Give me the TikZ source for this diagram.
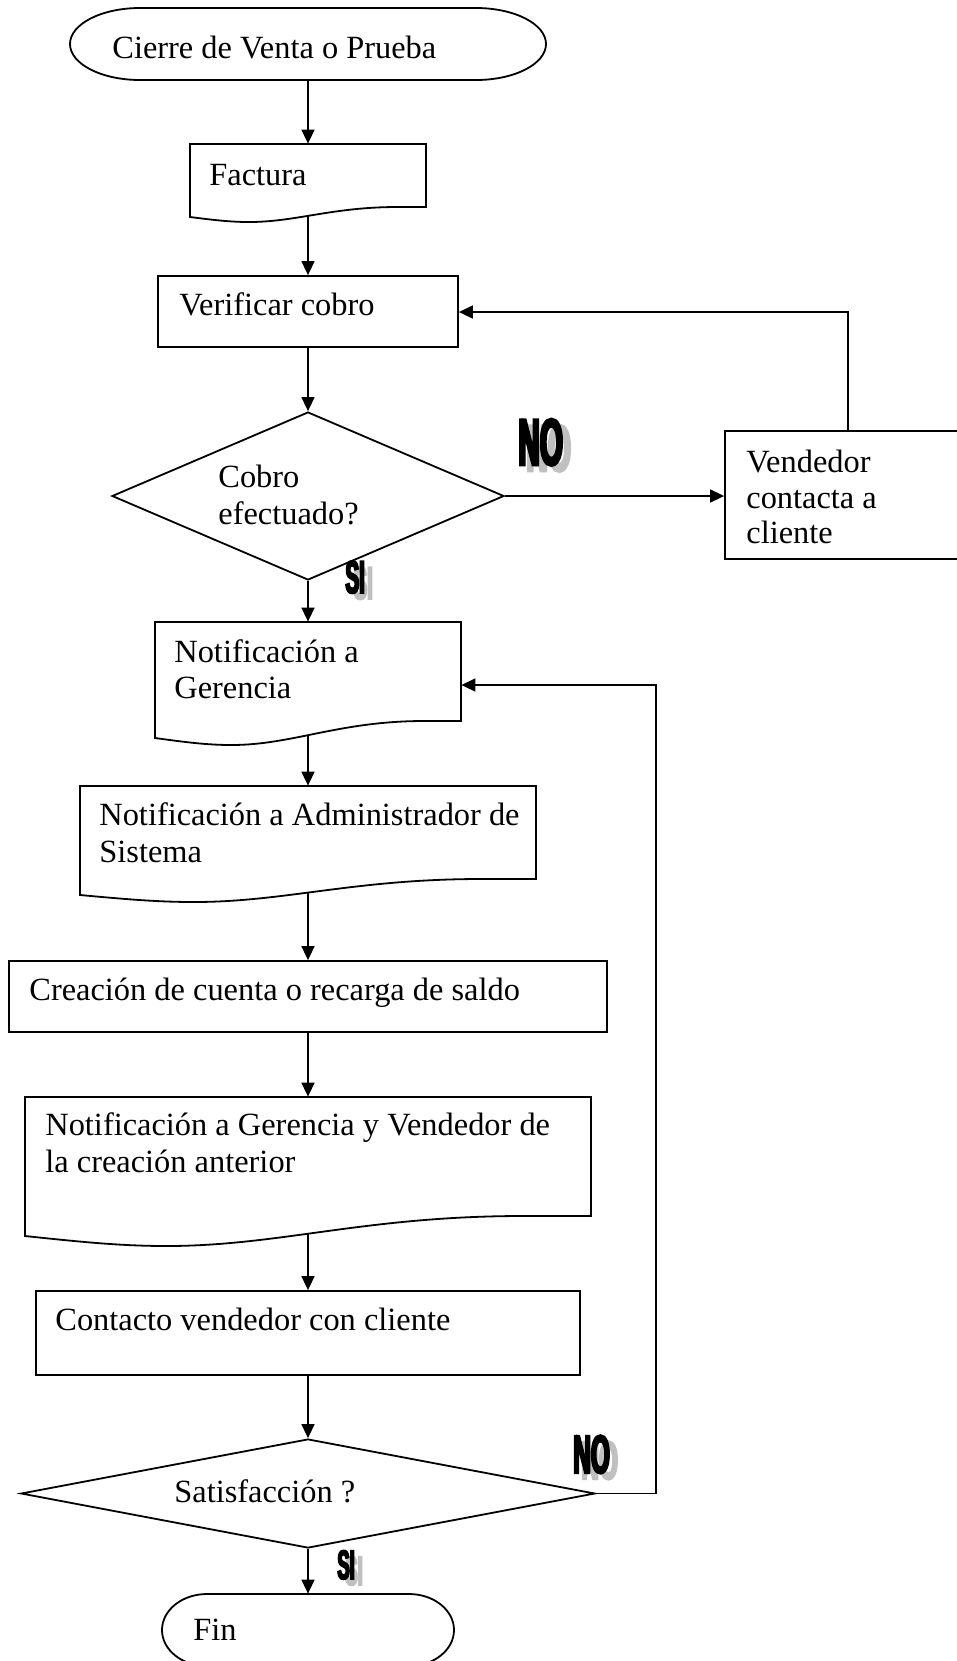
\documentclass[tikz,border=0pt]{standalone}
\usepackage{fontspec}
\setmainfont{Liberation Serif}
\newfontfamily\impactfont[FakeStretch=0.45,FakeBold=4]{Liberation Sans Bold}
\usetikzlibrary{arrows.meta,calc,shapes.geometric}
\definecolor{shadowgray}{RGB}{192,192,192}
\newcommand\px{0.5pt}
\newcommand\bodyfont{\fontsize{16.2pt}{18pt}\selectfont}

\tikzset{
  shp/.style={draw, line width=0.9pt},
  conn/.style={line width=0.8pt, -{Triangle[length=7pt,width=6.5pt]}},
  txt/.style={anchor=base west, inner sep=0pt, font=\bodyfont},
  box/.style={shp, rectangle, inner sep=0pt},
  lbl/.style={anchor=base west, inner sep=0pt},
  lblshadow/.style={lbl, text=shadowgray},
}

% name L T R B
\newcommand\rectnode[5]{%
  \node[box, minimum width={(#4-#2)*\px}, minimum height={(#5-#3)*\px}] (#1) at ({(#2+#4)/2},{(#3+#5)/2}) {};}

% name L T R B rx
\newcommand\termnode[6]{%
  \node[inner sep=0pt, minimum width={(#4-#2)*\px}, minimum height={(#5-#3)*\px}] (#1) at ({(#2+#4)/2},{(#3+#5)/2}) {};
  \draw[shp] ({#2+#6},#3) -- ({#4-#6},#3)
     arc[start angle=-90, end angle=90, x radius=#6, y radius={(#5-#3)/2}]
     -- ({#2+#6},#5)
     arc[start angle=90, end angle=270, x radius=#6, y radius={(#5-#3)/2}] -- cycle;}

% name L T R yR yL dip
\newcommand\docnode[7]{%
  \node[inner sep=0pt, minimum width={(#4-#2)*\px}, minimum height={(#5-#3)*\px}] (#1) at ({(#2+#4)/2},{(#3+#5)/2}) {};
  \draw[shp] (#2,#6) -- (#2,#3) -- (#4,#3) -- (#4,#5) -- ({#4-0.12*(#4-#2)},#5)
     .. controls ({#2+0.6*(#4-#2)},#5) and ({#2+0.45*(#4-#2)},{#6+#7}) .. ({#2+0.25*(#4-#2)},{#6+#7})
     .. controls ({#2+0.17*(#4-#2)},{#6+#7}) and ({#2+0.1*(#4-#2)},{#6+0.6*#7}) .. (#2,#6) -- cycle;
  \coordinate (#1-b) at ({(#2+#4)/2},{0.59*(#6+#7)+0.41*#5});}

% name x baseline size text
\newcommand\wlabel[5]{%
  \node[lblshadow, font={\impactfont\fontsize{#4}{#4}\selectfont}] (#1s) at ({#2+8},{#3+6}) {#5};
  \node[lbl, font={\impactfont\fontsize{#4}{#4}\selectfont}] (#1) at (#2,#3) {#5};}

\begin{document}
\begin{tikzpicture}[x=0.5pt,y=-0.5pt]
\useasboundingbox (0,0) rectangle (957,1661);
\fill[white] (0,0) rectangle (957,1661);

\termnode{start}{70}{8}{546}{80}{70}
\node[txt] (tstart) at (112,58) {Cierre de Venta o Prueba};

\docnode{fact}{190}{144}{426}{207}{217}{5}
\node[txt] (tfact) at (209,185) {Factura};

\rectnode{verif}{158}{276}{458}{347}
\node[txt] (tverif) at (179,315) {Verificar cobro};

\node[shp, diamond, inner sep=0pt, minimum width={392*\px}, minimum height={168*\px}] (d1) at (308,496) {};
\node[txt] (td1a) at (218,487) {Cobro};
\node[txt] (td1b) at (218,524) {efectuado?};

\rectnode{vend}{725}{431}{980}{559}
\node[txt] (tv1) at (746,472) {Vendedor};
\node[txt] (tv2) at (746,508) {contacta a};
\node[txt] (tv3) at (746,543) {cliente};

\docnode{ger}{155}{622}{461}{721}{738}{7}
\node[txt] (tg1) at (174,662) {Notificación a};
\node[txt] (tg2) at (174,698) {Gerencia};

\docnode{adm}{80}{786}{536}{879}{895}{7}
\node[txt] (ta1) at (99,825) {Notificación a Administrador de};
\node[txt] (ta2) at (99,862) {Sistema};

\rectnode{crea}{9}{961}{607}{1032}
\node[txt] (tc) at (29,1000) {Creación de cuenta o recarga de saldo};

\docnode{gv}{25}{1097}{591}{1216}{1236}{10}
\node[txt] (tgv1) at (45,1135) {Notificación a Gerencia y Vendedor de};
\node[txt] (tgv2) at (45,1172) {la creación anterior};

\rectnode{cont}{36}{1291}{580}{1375}
\node[txt] (tct) at (55,1330) {Contacto vendedor con cliente};

\node[shp, diamond, inner sep=0pt, minimum width={574*\px}, minimum height={109*\px}] (d2) at (308,1493.5) {};
\node[txt] (td2) at (174,1502) {Satisfacción ?};

\termnode{fin}{162}{1594}{454}{1666}{45}
\node[txt] (tfin) at (193,1640) {Fin};

% connectors
\draw[conn] (start.south) -- (fact.north);
\draw[conn] (fact-b) -- (verif.north);
\draw[conn] (verif.south) -- (d1.north);
\draw[conn] (d1.east) -- (vend.west |- d1.east);
\coordinate (fb1) at (848,312);
\draw[conn] (vend.north -| fb1) -- (fb1) -- (verif.east |- fb1);
\draw[conn] (d1.south) -- (ger.north);
\draw[conn] (ger-b) -- (adm.north);
\draw[conn] (adm-b) -- (crea.north);
\draw[conn] (crea.south) -- (gv.north);
\draw[conn] (gv-b) -- (cont.north);
\draw[conn] (cont.south) -- (d2.north);
\draw[conn] (d2.south) -- (fin.north);
\coordinate (fb2) at (656,685);
\draw[conn] (d2.east) -| (fb2) -- (ger.east |- fb2);

% labels
\wlabel{no1}{518}{465}{33pt}{NO}
\wlabel{si1}{345}{593}{23pt}{SI}
\wlabel{no2}{573}{1473}{27pt}{NO}
\wlabel{si2}{337}{1579}{20.5pt}{SI}
\end{tikzpicture}
\end{document}
